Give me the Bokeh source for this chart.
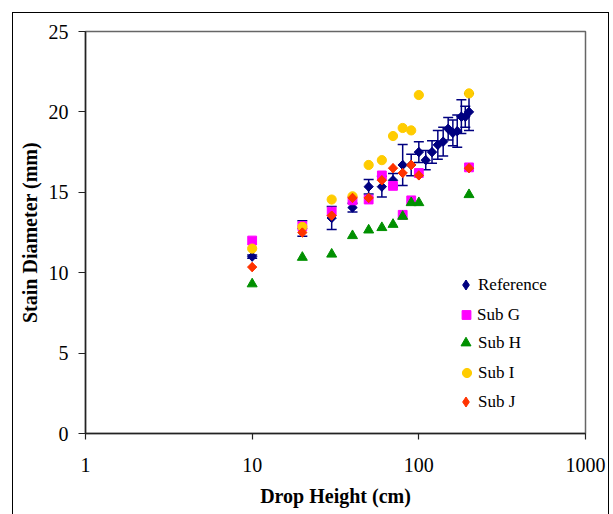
from bokeh.plotting import figure
from bokeh.models import (ColumnDataSource, Whisker, TeeHead, FixedTicker, NumeralTickFormatter,
                          Legend, LegendItem, Range1d)
from bokeh.embed import file_html
from bokeh.resources import INLINE
import math

# ---------------- data ----------------
ref_x = [10, 20, 30, 40, 50, 60, 70, 80, 90, 100, 110, 120, 130, 140, 150, 160, 170, 180, 190, 200]
ref_y = [11.0, 12.75, 13.4, 14.05, 15.35, 15.35, 15.75, 16.7, 16.7, 17.5, 17.0, 17.5, 17.95, 18.15,
         18.95, 18.7, 18.8, 19.7, 19.7, 20.0]
ref_err = [0.1, 0.48, 0.72, 0.27, 0.45, 0.65, 0.42, 1.28, 0.67, 0.65, 0.6, 0.7, 0.9, 0.9,
           0.7, 0.8, 1.0, 1.05, 0.65, 1.15]

sub_x = [10, 20, 30, 40, 50, 60, 70, 80, 90, 100, 200]
sub_g = [12.0, 12.9, 13.8, 14.5, 14.55, 16.05, 15.4, 13.6, 14.5, 16.2, 16.55]
sub_h = [9.3, 10.95, 11.15, 12.3, 12.65, 12.8, 13.0, 13.5, 14.35, 14.35, 14.85]
sub_i = [11.5, 12.85, 14.55, 14.75, 16.7, 17.0, 18.5, 19.0, 18.85, 21.05, 21.15]
sub_j = [10.35, 12.5, 13.55, 14.65, 14.65, 15.75, 16.5, 16.2, 16.7, 16.05, 16.5]

series_names = ["Reference", "Sub G", "Sub H", "Sub I", "Sub J"]
x_ticks = [1, 10, 100, 1000]
y_ticks = [0, 5, 10, 15, 20, 25]

FONT = "Liberation Serif"
NAVY = "#000080"
C_G, C_H, C_I, C_J = "#FF00FF", "#009000", "#FFCC00", "#FF3300"

W, H = 613, 514
FRAME_LEFT, FRAME_TOP, FRAME_RIGHT, FRAME_BOTTOM = 85, 31, 585, 433

# ---------------- figure ----------------
p = figure(width=W, height=H, x_axis_type="log",
           x_range=Range1d(1, 1000), y_range=Range1d(0, 25),
           output_backend="svg", toolbar_location=None,
           min_border_left=FRAME_LEFT, min_border_right=W - FRAME_RIGHT,
           min_border_top=FRAME_TOP, min_border_bottom=H - FRAME_BOTTOM)

p.border_fill_alpha = 0
p.background_fill_color = "white"
p.outline_line_color = "#666666"
p.outline_line_width = 1.5
p.xgrid.visible = False
p.ygrid.visible = False

# outer chart-area border (CSS background lines on the figure element)
p.styles = {
    "background-color": "white",
    "background-image": "linear-gradient(#000,#000), linear-gradient(#000,#000), linear-gradient(#000,#000)",
    "background-size": "1px 100%, 597px 1px, 1px 100%",
    "background-position": "12px 12px, 12px 12px, 608px 12px",
    "background-repeat": "no-repeat",
}

# axes
for ax in (p.xaxis[0], p.yaxis[0]):
    ax.axis_line_color = "#222222"
    ax.axis_line_width = 1.5
    ax.major_tick_line_color = "#222222"
    ax.major_tick_line_width = 1.2
    ax.major_tick_in = 0
    ax.minor_tick_line_color = None
    ax.major_label_text_font = FONT
    ax.major_label_text_font_size = "20px"
    ax.major_label_text_color = "black"
    ax.axis_label_text_font = FONT
    ax.axis_label_text_font_size = "20px"
    ax.axis_label_text_font_style = "bold"
    ax.axis_label_text_color = "black"

p.xaxis.ticker = FixedTicker(ticks=x_ticks, minor_ticks=[])
p.xaxis.formatter = NumeralTickFormatter(format="0")
p.xaxis.major_tick_out = 6
p.xaxis.major_label_standoff = 18
p.xaxis.axis_label = "Drop Height (cm)"
p.xaxis.axis_label_standoff = 10

p.yaxis.ticker = FixedTicker(ticks=y_ticks, minor_ticks=[])
p.yaxis.major_tick_out = 7
p.yaxis.major_label_standoff = 10
p.yaxis.axis_label = "Stain Diameter (mm)"
p.yaxis.axis_label_standoff = 5

# error bars of reference
err_src = ColumnDataSource(dict(
    x=ref_x,
    upper=[y + e for y, e in zip(ref_y, ref_err)],
    lower=[y - e for y, e in zip(ref_y, ref_err)],
))
wh = Whisker(base="x", upper="upper", lower="lower", source=err_src, dimension="height",
             line_color=NAVY, line_width=1.5,
             upper_head=TeeHead(size=10, line_color=NAVY, line_width=1.5),
             lower_head=TeeHead(size=10, line_color=NAVY, line_width=1.5))
p.add_layout(wh)

# series. Diamonds: a narrow bokeh "diamond" (used as legend swatch) hidden under a
# square rotated by 45 degrees (the visible Excel-like diamond).
lg_ref = p.scatter(ref_x, ref_y, marker="diamond", size=9, fill_color=NAVY, line_color=NAVY)
r_ref = p.scatter(ref_x, ref_y, marker="square", angle=math.pi / 4, size=6.6,
                  fill_color=NAVY, line_color=NAVY)
r_g = p.scatter(sub_x, sub_g, marker="square", size=8.8, fill_color=C_G, line_color=C_G)
r_h = p.scatter(sub_x, sub_h, marker="triangle", size=10, fill_color=C_H, line_color=C_H)
r_i = p.scatter(sub_x, sub_i, marker="circle", size=9.2, fill_color=C_I, line_color=C_I)
lg_j = p.scatter(sub_x, sub_j, marker="diamond", size=9, fill_color=C_J, line_color=C_J)
r_j = p.scatter(sub_x, sub_j, marker="square", angle=math.pi / 4, size=6.6,
                fill_color=C_J, line_color=C_J)

legend_renderers = [lg_ref, r_g, r_h, r_i, lg_j]
glyph_w = [25, 22, 25, 23, 25]        # legend marker size = 0.4 * min(glyph box)
row_center = [285, 314, 343, 372.5, 401.5]   # px from top
TEXT_START = 476
MARK_CENTER = 466
ROW_H = 25

for name, r, gw, c in zip(series_names, legend_renderers, glyph_w, row_center):
    gx = MARK_CENTER - gw / 2
    standoff = int(round(TEXT_START - (gx + gw)))
    lg = Legend(items=[LegendItem(label=name, renderers=[r])],
                location=(int(round(gx - FRAME_LEFT)), int(round(FRAME_BOTTOM - (c + ROW_H / 2)))),
                glyph_width=gw, glyph_height=ROW_H, label_height=ROW_H,
                label_standoff=standoff, padding=0, margin=0, spacing=0,
                label_text_font=FONT, label_text_font_size="17px", label_text_color="black",
                background_fill_alpha=0, border_line_alpha=0)
    p.add_layout(lg)

open("out.html", "w").write(file_html(p, INLINE))
